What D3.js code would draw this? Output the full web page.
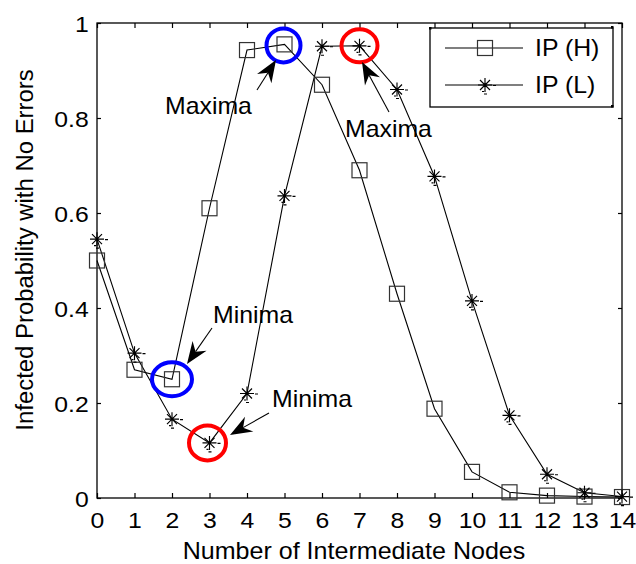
<!DOCTYPE html>
<html>
<head>
<meta charset="utf-8">
<script src="https://cdn.jsdelivr.net/npm/d3@7/dist/d3.min.js"></script>
<style>
  html, body { margin: 0; padding: 0; background: #fff; }
  svg { display: block; }
  text { font-family: "Liberation Sans", Arial, Helvetica, sans-serif; fill: #000; }
</style>
</head>
<body>
<svg id="chart" width="636" height="564"></svg>
<script>
// Number of intermediate nodes on the x axis
const nodes = [0, 1, 2, 3, 4, 5, 6, 7, 8, 9, 10, 11, 12, 13, 14];
// Infected probability with no errors, high and low cases
const ipH = [0.50, 0.27, 0.25, 0.61, 0.943, 0.955, 0.87, 0.69, 0.43, 0.188, 0.055, 0.012, 0.005, 0.003, 0.002];
const ipL = [0.545, 0.305, 0.166, 0.116, 0.22, 0.636, 0.951, 0.952, 0.86, 0.677, 0.415, 0.174, 0.05, 0.011, 0.003];
const yTicks = [0, 0.2, 0.4, 0.6, 0.8, 1];
const seriesNames = ["IP (H)", "IP (L)"];

const svg = d3.select("#chart");
const FONT = 22.5, SX = 1.1;

const x = d3.scaleLinear().domain([0, 14]).range([97, 622]);
const y = d3.scaleLinear().domain([0, 1]).range([498, 23]);

// axes with inward ticks on all four sides
const gB = svg.append("g").attr("transform", `translate(0,${y(0)})`)
  .call(d3.axisBottom(x).tickValues(nodes).tickSize(-5).tickPadding(12).tickFormat(d3.format("d")));
const gL = svg.append("g").attr("transform", `translate(${x(0)},0)`)
  .call(d3.axisLeft(y).tickValues(yTicks).tickSize(-4).tickPadding(8).tickFormat(d => d3.format("")(d)));
svg.append("g").attr("transform", `translate(0,${y(1)})`)
  .call(d3.axisTop(x).tickValues(nodes).tickSize(-5).tickFormat(""));
svg.append("g").attr("transform", `translate(${x(14)},0)`)
  .call(d3.axisRight(y).tickValues(yTicks).tickSize(-4).tickFormat(""));

svg.selectAll(".domain").remove();
svg.selectAll(".tick line").attr("stroke", "#000").attr("stroke-width", 1.2);
gB.selectAll(".tick text").attr("font-size", FONT).attr("transform", `scale(${SX},1)`)
  .attr("dy", "0.72em").attr("y", 14);
gL.selectAll(".tick text").attr("font-size", FONT).attr("transform", `scale(${SX},1)`)
  .attr("x", -7.5).attr("dy", "0.36em");
svg.selectAll(".tick text").attr("font-family", "Liberation Sans, Arial, sans-serif").attr("fill", "#000");

// plot frame
svg.append("rect")
  .attr("x", x(0)).attr("y", y(1))
  .attr("width", x(14) - x(0)).attr("height", y(0) - y(1))
  .attr("fill", "none").attr("stroke", "#000").attr("stroke-width", 1.3);

// axis titles
svg.append("text")
  .attr("transform", `translate(354,559) scale(1.09,1)`)
  .attr("text-anchor", "middle").attr("font-size", 23)
  .text("Number of Intermediate Nodes");
svg.append("text")
  .attr("transform", "translate(33,250) rotate(-90) scale(1.04,1)")
  .attr("text-anchor", "middle").attr("font-size", 23)
  .text("Infected Probability with No Errors");

// series lines
const line = d3.line().x((d, i) => x(nodes[i])).y(d => y(d));
svg.append("path").datum(ipH).attr("d", line)
  .attr("fill", "none").attr("stroke", "#000").attr("stroke-width", 1.1);
svg.append("path").datum(ipL).attr("d", line)
  .attr("fill", "none").attr("stroke", "#000").attr("stroke-width", 1.1);

// marker shapes
function square(g, cx, cy) {
  g.append("rect").attr("x", cx - 7.5).attr("y", cy - 7.5)
    .attr("width", 15).attr("height", 15)
    .attr("fill", "none").attr("stroke", "#333").attr("stroke-width", 1.2);
}
function star(g, cx, cy) {
  const p = d3.path();
  p.moveTo(cx - 7, cy); p.lineTo(cx + 7, cy);
  p.moveTo(cx, cy - 7); p.lineTo(cx, cy + 7);
  p.moveTo(cx - 5, cy - 5); p.lineTo(cx + 5, cy + 5);
  p.moveTo(cx - 5, cy + 5); p.lineTo(cx + 5, cy - 5);
  // small trailing strokes of the glyph
  p.moveTo(cx + 8, cy + 0.5); p.lineTo(cx + 11, cy + 0.5);
  p.moveTo(cx - 3, cy + 6.5); p.lineTo(cx - 1, cy + 6.5);
  p.moveTo(cx - 1, cy + 9); p.lineTo(cx + 2, cy + 9);
  g.append("path").attr("d", p.toString())
    .attr("fill", "none").attr("stroke", "#000").attr("stroke-width", 1.15);
}

const gM = svg.append("g");
ipH.forEach((v, i) => square(gM, x(nodes[i]), y(v)));
ipL.forEach((v, i) => star(gM, x(nodes[i]), y(v)));

// highlighted extrema
const rings = [
  { s: ipH, i: 2, color: "#0000ff", rx: 20, ry: 17, dx: 0, dy: 0 },
  { s: ipH, i: 5, color: "#0000ff", rx: 17, ry: 17, dx: -1, dy: 1 },
  { s: ipL, i: 3, color: "#ff0000", rx: 18.5, ry: 17.5, dx: -2, dy: 0 },
  { s: ipL, i: 7, color: "#ff0000", rx: 18, ry: 16.5, dx: 0, dy: 0 }
];
rings.forEach(r => {
  svg.append("ellipse")
    .attr("cx", x(nodes[r.i]) + r.dx).attr("cy", y(r.s[r.i]) + r.dy)
    .attr("rx", r.rx).attr("ry", r.ry)
    .attr("fill", "none").attr("stroke", r.color).attr("stroke-width", 4);
});

// annotation arrows with notched heads
function arrow(x1, y1, x2, y2) {
  const ang = Math.atan2(y2 - y1, x2 - x1);
  const L = 22, W = 8.5, N = 15;
  const ux = Math.cos(ang), uy = Math.sin(ang);
  const px = -uy, py = ux;
  const bx = x2 - ux * L, by = y2 - uy * L;
  const nx = x2 - ux * N, ny = y2 - uy * N;
  svg.append("line").attr("x1", x1).attr("y1", y1).attr("x2", nx).attr("y2", ny)
    .attr("stroke", "#000").attr("stroke-width", 1.1);
  svg.append("path")
    .attr("d", `M${x2},${y2}L${bx + px * W},${by + py * W}L${nx},${ny}L${bx - px * W},${by - py * W}Z`)
    .attr("fill", "#000");
}
arrow(257, 90, 276, 60);
arrow(389, 112, 362, 62);
arrow(212, 328, 187, 364);
arrow(269, 413, 230, 435);

function label(tx, ty, s) {
  svg.append("text").attr("transform", `translate(${tx},${ty}) scale(1.08,1)`)
    .attr("font-size", 23).text(s);
}
label(165, 114, "Maxima");
label(345, 137, "Maxima");
label(213, 323, "Minima");
label(272, 407, "Minima");

// legend
const lg = svg.append("g");
lg.append("rect").attr("x", 430).attr("y", 28).attr("width", 183).attr("height", 79)
  .attr("fill", "#fff").attr("stroke", "#000").attr("stroke-width", 1.3);
[[430, 28], [612, 27], [612, 106]].forEach(([cx, cy]) =>
  lg.append("rect").attr("x", cx - 1).attr("y", cy - 1).attr("width", 2.5).attr("height", 2.5).attr("fill", "#000"));
const rowsY = [48, 85];
seriesNames.forEach((name, k) => {
  const ry = rowsY[k];
  lg.append("line").attr("x1", 445).attr("x2", 523).attr("y1", ry).attr("y2", ry)
    .attr("stroke", "#000").attr("stroke-width", 1.1);
  if (k === 0) square(lg, 485, ry); else star(lg, 485, ry);
  lg.append("text").attr("transform", `translate(535,${ry + 8}) scale(1.08,1)`)
    .attr("font-size", 23).text(name);
});
</script>
</body>
</html>
